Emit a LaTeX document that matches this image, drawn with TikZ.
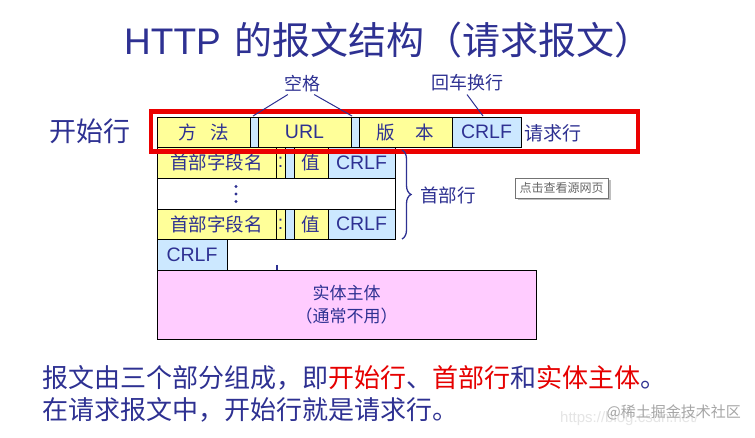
\documentclass[tikz,border=0pt]{standalone}
\usepackage{fontspec}
\setmainfont{Liberation Sans}
\newfontfamily\cjk{Noto Sans CJK SC}
\usetikzlibrary{decorations.pathreplacing}
\definecolor{navy}{RGB}{46,49,146}
\definecolor{cellyellow}{RGB}{255,255,153}
\definecolor{cellblue}{RGB}{204,232,255}
\definecolor{cellpink}{RGB}{255,204,255}
\definecolor{redbox}{RGB}{235,0,0}
\definecolor{redtext}{RGB}{230,0,0}
\begin{document}
\begin{tikzpicture}[x=1pt,y=-1pt,
  cellbase/.style={draw=black, line width=0.8pt, inner sep=0pt, text=navy},
  yc/.style={cellbase, fill=cellyellow},
  bc/.style={cellbase, fill=cellblue},
  wc/.style={cellbase, fill=white},
  pc/.style={cellbase, fill=cellpink},
  celltxt/.style={font=\cjk\fontsize{18.5}{20}\selectfont},
  lattxt/.style={font=\fontsize{19.5}{21}\selectfont},
  lbl/.style={inner sep=0pt, text=navy},
  leader/.style={draw=navy, line width=1pt},
]
\useasboundingbox (0,0) rectangle (755,438);
\fill[white] (0,0) rectangle (755,438);

% title
\node[lbl, anchor=west] (title) at (124,40) {\fontsize{37}{40}\selectfont HTTP\hspace{14pt}{\cjk\fontsize{38}{40}\selectfont 的报文结构（请求报文）}};

% request line
\node[yc, minimum width=93, minimum height=30, celltxt] (fangfa) at (203.5,132) {方\hspace{0.75em}法};
\node[bc, minimum width=8, minimum height=30] (sp1) at (254,132) {};
\node[yc, minimum width=93, minimum height=30, lattxt] (url) at (304.5,132) {URL};
\node[bc, minimum width=8, minimum height=30] (sp2) at (355,132) {};
\node[yc, minimum width=93, minimum height=30, celltxt] (banben) at (405.5,132) {版\hspace{1.1em}本};
\node[bc, minimum width=69, minimum height=30, lattxt] (crlf0) at (486.5,132) {CRLF};

% header row 1
\node[yc, minimum width=119, minimum height=31, celltxt] (h1name) at (216.5,162.5) {首部字段名};
\node[yc, minimum width=9, minimum height=31, lattxt] (h1colon) at (280.5,162.5) {:};
\node[bc, minimum width=9, minimum height=31] (h1gap) at (289.5,162.5) {};
\node[yc, minimum width=34, minimum height=31, celltxt] (h1val) at (311,162.5) {值};
\node[bc, minimum width=67, minimum height=31, lattxt] (h1crlf) at (361.5,162.5) {CRLF};

% dots row
\node[wc, minimum width=238, minimum height=31] (dotsrow) at (276,193.5) {};
\foreach \yy in {186.5,194,201.5} \fill[navy] (236,\yy) circle (1.6);

% header row n
\node[yc, minimum width=119, minimum height=30, celltxt] (h2name) at (216.5,224) {首部字段名};
\node[yc, minimum width=9, minimum height=30, lattxt] (h2colon) at (280.5,224) {:};
\node[bc, minimum width=9, minimum height=30] (h2gap) at (289.5,224) {};
\node[yc, minimum width=34, minimum height=30, celltxt] (h2val) at (311,224) {值};
\node[bc, minimum width=67, minimum height=30, lattxt] (h2crlf) at (361.5,224) {CRLF};

% empty line
\node[bc, minimum width=70, minimum height=31, lattxt] (crlfend) at (192,254.5) {CRLF};
\draw[navy, line width=1.6pt] (277,265) -- (277,270);

% entity body
\node[pc, minimum width=379, minimum height=69, align=center, font=\cjk\fontsize{17}{23}\selectfont] (body) at (346.5,304.5) {实体主体\\（通常不用）};

% red frame
\node[draw=redbox, line width=4.5pt, minimum width=487, minimum height=40, inner sep=0pt] (startframe) at (394.5,131.5) {};

% labels
\node[lbl, font=\cjk\fontsize{27}{30}\selectfont] (kaishi) at (90,131) {开始行};
\node[lbl, font=\cjk\fontsize{18}{20}\selectfont] (kongge) at (302,84) {空格};
\node[lbl, font=\cjk\fontsize{18}{20}\selectfont] (huiche) at (467,83) {回车换行};
\node[lbl, font=\cjk\fontsize{19}{20}\selectfont] (qingqiu) at (553,133) {请求行};
\node[lbl, font=\cjk\fontsize{18.5}{20}\selectfont] (shoubu) at (448,195) {首部行};

\coordinate (k1) at (253,116);
\coordinate (k2) at (352,116);
\coordinate (hc) at (483,116);
\draw[leader] ([xshift=4pt,yshift=-2pt]kongge.south west) -- (k1);
\draw[leader] ([xshift=-6pt,yshift=-2pt]kongge.south east) -- (k2);
\draw[leader] ([yshift=-3pt]huiche.south) -- (hc);

% brace
\coordinate (bt) at (402,150);
\coordinate (bb) at (402,239);
\draw[draw=navy, line width=1.3pt, decorate, decoration={brace, amplitude=9pt, aspect=0.5}] (bt) -- (bb);

% tooltip
\fill[black!25] (517.5,180.5) rectangle (610.5,200.5);
\node[draw=black!55, fill=white, line width=0.8pt, minimum width=93, minimum height=20, inner sep=0pt, text=black!60, font=\cjk\fontsize{12}{13}\selectfont] (tooltip) at (561.5,188) {点击查看源网页};

% bottom text
\node[lbl, anchor=west, font=\cjk\fontsize{26}{28}\selectfont] (line1) at (42,378) {报文由三个部分组成，即\textcolor{redtext}{开始行}、\textcolor{redtext}{首部行}和\textcolor{redtext}{实体主体}。};
\node[lbl, anchor=west, font=\cjk\fontsize{26}{28}\selectfont] (line2) at (42,410) {在请求报文中，开始行就是请求行。};

% watermark
\node[inner sep=0pt, anchor=west, text=black!10, font=\fontsize{15}{16}\selectfont] (wm1) at (560,419) {https://blog.csdn.net/};
\node[inner sep=0pt, anchor=east, text=black!35, font=\cjk\fontsize{15}{16}\selectfont] (wm2) at (741,412) {@稀土掘金技术社区};
\end{tikzpicture}
\end{document}
